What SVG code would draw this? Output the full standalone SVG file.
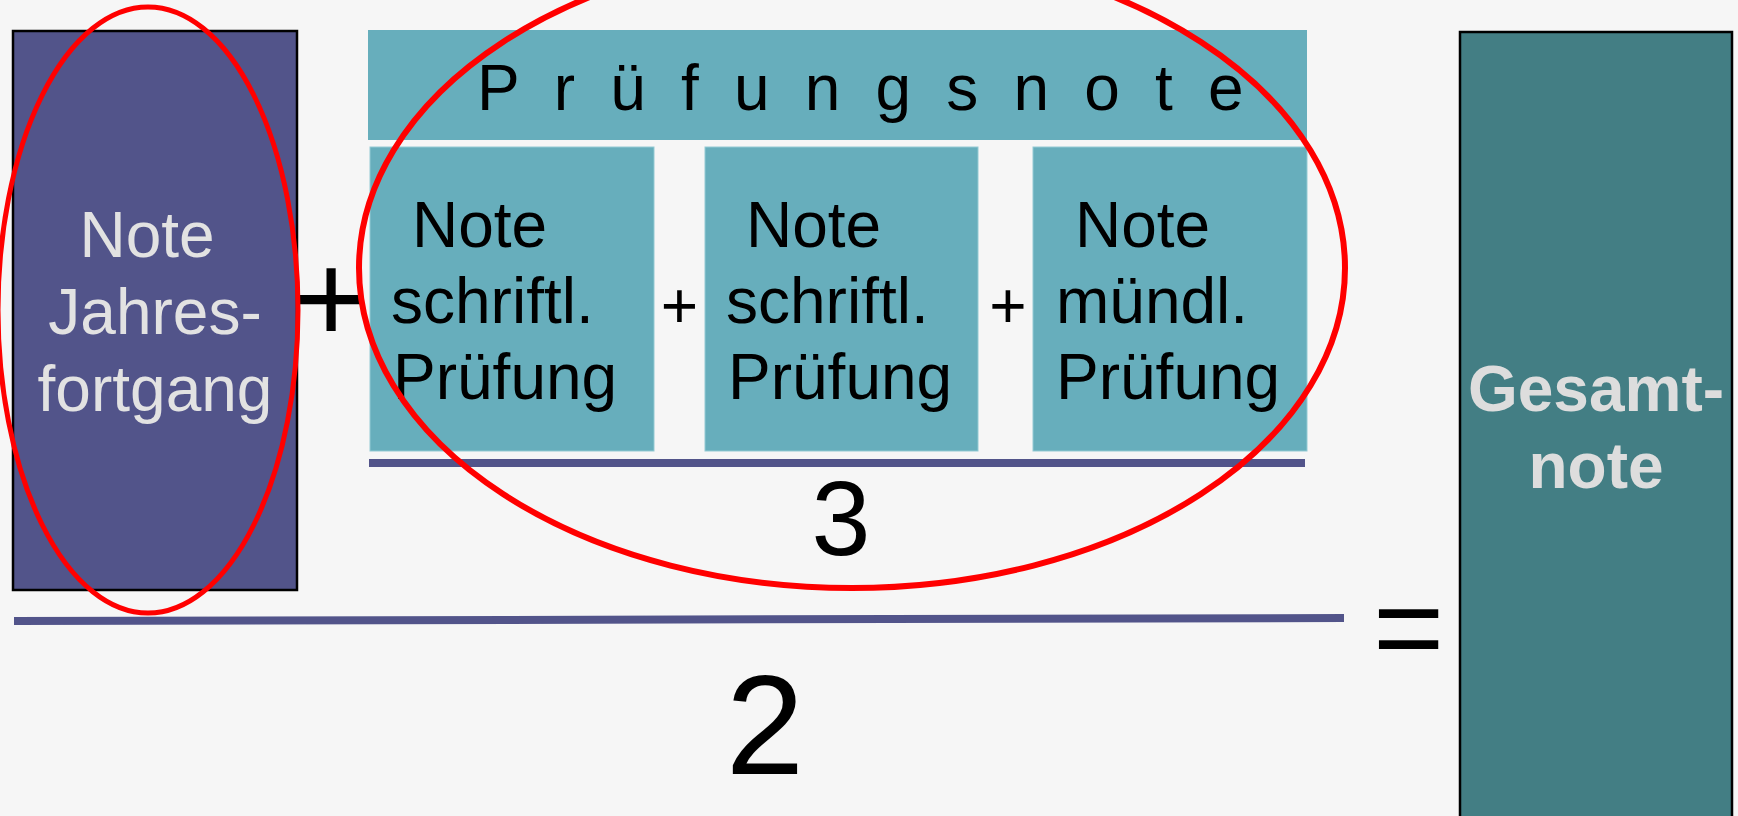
<svg xmlns="http://www.w3.org/2000/svg" width="1738" height="816" viewBox="0 0 1738 816">
<defs>
<style>
.t{font-family:"Liberation Sans",Arial,sans-serif;font-size:64px}
.dark{fill:#000}
.light{fill:#E2E2E2}
.cell{fill:#67AEBC;stroke:#93CAD3;stroke-width:1}
.bar{stroke:#52548A;stroke-width:8;fill:none}
.ring{fill:none;stroke:#FF0000}
</style>
</defs>
<rect width="1738" height="816" fill="#F6F6F6"/>

<g id="jahresfortgang">
<rect x="13" y="31" width="284" height="559" fill="#52548A" stroke="#000" stroke-width="2.5"/>
<text class="t light" text-anchor="middle"><tspan x="147" y="257">Note</tspan><tspan x="155" y="334">Jahres-</tspan><tspan x="155" y="411">fortgang</tspan></text>
</g>

<g id="plus-main">
<text class="t dark" x="331" y="342" text-anchor="middle" style="font-size:128px">+</text>
</g>

<g id="pruefungsnote">
<rect x="368" y="30" width="939" height="110" fill="#67AEBC"/>
<text class="t dark" x="477" y="110" style="letter-spacing:8.7px">P r ü f u n g s n o t e</text>
</g>

<g id="schriftl1">
<rect class="cell" x="370" y="147" width="284" height="304"/>
<text class="t dark"><tspan x="412" y="247">Note</tspan><tspan x="391" y="323">schriftl.</tspan><tspan x="393" y="399">Prüfung</tspan></text>
</g>

<g id="plus-1">
<text class="t dark" x="679.5" y="328" text-anchor="middle">+</text>
</g>

<g id="schriftl2">
<rect class="cell" x="705" y="147" width="273" height="304"/>
<text class="t dark"><tspan x="746" y="247">Note</tspan><tspan x="726" y="323">schriftl.</tspan><tspan x="728" y="399">Prüfung</tspan></text>
</g>

<g id="plus-2">
<text class="t dark" x="1008" y="328" text-anchor="middle">+</text>
</g>

<g id="muendl">
<rect class="cell" x="1033" y="147" width="274" height="304"/>
<text class="t dark"><tspan x="1075" y="247">Note</tspan><tspan x="1056" y="323">mündl.</tspan><tspan x="1056" y="399">Prüfung</tspan></text>
</g>

<g id="fraction-bars">
<line class="bar" x1="369" y1="463" x2="1305" y2="463"/>
<line class="bar" x1="14" y1="621" x2="1344" y2="618"/>
</g>

<g id="divisor-3">
<text class="t dark" x="841" y="555" text-anchor="middle" style="font-size:106px">3</text>
</g>

<g id="divisor-2">
<text class="t dark" x="765" y="774" text-anchor="middle" style="font-size:141px">2</text>
</g>

<g id="equals">
<text class="t dark" x="1408.5" y="670" text-anchor="middle" style="font-size:122px">=</text>
</g>

<g id="gesamtnote">
<rect x="1460" y="32" width="272" height="800" fill="#437E84" stroke="#000" stroke-width="2.5"/>
<text class="t" fill="#DDDDDD" font-weight="bold" text-anchor="middle"><tspan x="1596" y="411">Gesamt-</tspan><tspan x="1596" y="488">note</tspan></text>
</g>

<g id="highlights">
<ellipse class="ring" cx="148" cy="310" rx="150" ry="303" stroke-width="5"/>
<ellipse class="ring" cx="852" cy="268" rx="493" ry="320" stroke-width="6"/>
</g>
</svg>
